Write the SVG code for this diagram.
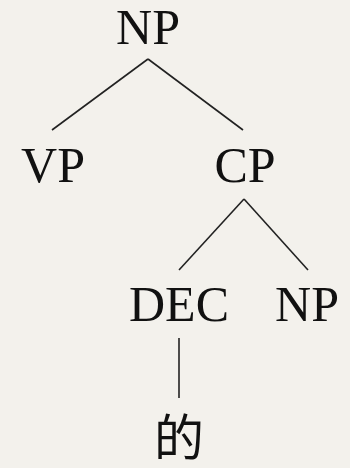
<svg xmlns="http://www.w3.org/2000/svg" width="350" height="468" viewBox="0 0 350 468">
<style>
.lbl{font-family:"Liberation Serif","DejaVu Serif",serif;font-size:50px;fill:#111;text-anchor:middle}
.cjk{font-family:"Liberation Serif","Noto Sans CJK SC",serif;font-size:50px;fill:#111;text-anchor:middle}
.edge{stroke:#222;stroke-width:1.6;fill:none}
</style>
<rect width="350" height="468" fill="#f3f1ec"/>
<g id="connectors">
<line class="edge" x1="148" y1="59" x2="52" y2="130"/>
<line class="edge" x1="148" y1="59" x2="243" y2="130"/>
<line class="edge" x1="244" y1="199" x2="179" y2="270"/>
<line class="edge" x1="244" y1="199" x2="308" y2="270"/>
<line class="edge" x1="179" y1="338" x2="179" y2="398"/>
</g>
<g id="np-root"><text class="lbl" x="148" y="44">NP</text></g>
<g id="vp"><text class="lbl" x="53" y="182">VP</text></g>
<g id="cp"><text class="lbl" x="245" y="182">CP</text></g>
<g id="dec"><text class="lbl" x="179" y="321">DEC</text></g>
<g id="np-child"><text class="lbl" x="307" y="321">NP</text></g>
<g id="de"><text class="cjk" x="179" y="456">的</text></g>
</svg>
